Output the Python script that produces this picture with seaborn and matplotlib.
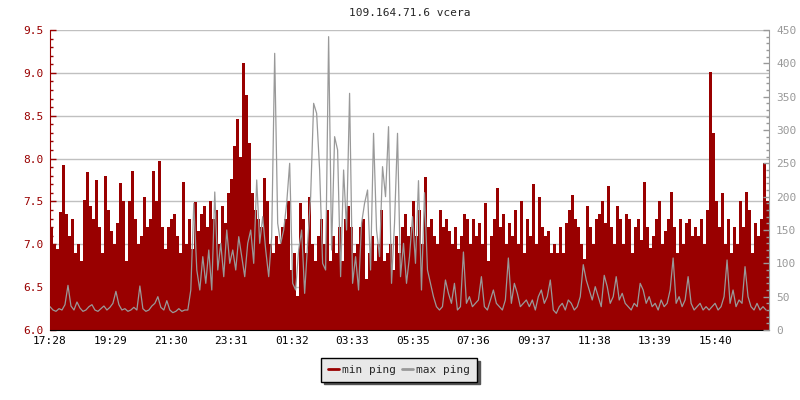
import numpy as np
import pandas as pd
import matplotlib
matplotlib.use("Agg")
import matplotlib.pyplot as plt
import seaborn as sns
from matplotlib.lines import Line2D
from matplotlib.ticker import MultipleLocator, FormatStrFormatter

sns.set_style("white")
plt.rcParams["font.family"] = ["DejaVu Sans Mono", "DejaVu Sans"]

title = "109.164.71.6 vcera"

# one sample every 6 minutes, starting 17:28
step_min = 6

# min ping (left axis)
min_ping = [
    7.2, 7.0, 6.95, 7.38, 7.93, 7.35, 7.1, 7.3, 6.9, 7.0, 6.8, 7.52, 7.84, 7.45, 7.3, 7.75, 7.2, 6.9, 7.8, 7.4,
    7.15, 7.0, 7.25, 7.71, 7.5, 6.8, 7.5, 7.85, 7.3, 7.0, 7.1, 7.55, 7.2, 7.3, 7.85, 7.5, 7.97, 7.2, 6.95, 7.2,
    7.3, 7.35, 7.1, 6.9, 7.73, 7.0, 7.3, 6.95, 7.49, 7.15, 7.35, 7.45, 7.2, 7.5, 7.3, 7.4, 7.0, 7.45, 7.25, 7.6,
    7.76, 8.15, 8.46, 8.02, 9.12, 8.74, 8.18, 7.6, 7.4, 7.3, 7.2, 7.77, 7.5, 7.0, 6.9, 7.1, 7.0, 7.2, 7.3, 7.5,
    6.7, 6.9, 6.4, 7.48, 7.3, 6.9, 7.55, 7.0, 6.8, 7.1, 7.3, 7.0, 7.4, 6.8, 7.1, 6.9, 7.2, 6.8, 7.3, 7.45,
    7.2, 6.9, 7.0, 7.2, 7.3, 6.6, 6.9, 7.1, 6.8, 7.0, 7.4, 6.8, 6.9, 7.0, 6.7, 7.1, 6.9, 7.2, 7.35, 7.1,
    7.2, 7.5, 7.1, 7.4, 7.0, 7.79, 7.2, 7.3, 7.1, 7.0, 7.4, 7.2, 7.3, 7.15, 7.0, 7.2, 6.95, 7.1, 7.35, 7.3,
    7.0, 7.3, 7.1, 7.25, 7.0, 7.48, 6.8, 7.1, 7.3, 7.66, 7.2, 7.35, 7.0, 7.25, 7.1, 7.4, 7.0, 7.5, 6.9, 7.3,
    7.1, 7.7, 7.0, 7.55, 7.2, 7.1, 7.15, 6.9, 7.0, 6.9, 7.2, 6.9, 7.25, 7.4, 7.58, 7.3, 7.2, 7.0, 6.83, 7.45,
    7.2, 7.0, 7.3, 7.35, 7.5, 7.25, 7.68, 7.2, 7.0, 7.45, 7.3, 7.0, 7.35, 7.3, 6.9, 7.2, 7.3, 7.05, 7.73, 7.2,
    6.96, 7.1, 7.3, 7.5, 7.0, 7.15, 7.3, 7.61, 7.2, 6.9, 7.3, 7.0, 7.25, 7.3, 7.1, 7.2, 7.1, 7.3, 7.0, 7.4,
    9.01, 8.3, 7.5, 7.2, 7.6, 7.0, 7.3, 6.9, 7.2, 7.0, 7.5, 7.2, 7.61, 7.4, 6.9, 7.25, 7.1, 7.3, 7.95, 7.5,
]

# max ping (right axis)
max_ping = [
    35, 30, 28, 32, 30, 38, 67, 36, 30, 42, 33, 28, 30, 35, 38, 30, 28, 32, 36, 30,
    34, 40, 58, 38, 30, 32, 28, 30, 34, 30, 66, 32, 28, 30, 36, 40, 50, 34, 30, 44,
    30, 26, 28, 32, 28, 30, 30, 60, 190, 90, 60, 110, 70, 120, 60, 207, 90, 130, 80, 150,
    100, 120, 90, 140, 110, 80, 130, 150, 100, 225, 130, 170, 120, 80, 140, 415, 160, 130, 150, 190,
    250, 70, 60, 120, 150, 55, 130, 200, 340, 325, 240, 100, 90, 440, 120, 290, 270, 80, 240, 150,
    355, 70, 110, 60, 160, 190, 210, 90, 295, 150, 110, 245, 200, 305, 70, 160, 295, 80, 130, 70,
    110, 170, 100, 224, 60, 206, 90, 70, 50, 35, 30, 35, 75, 55, 40, 70, 30, 35, 117, 40,
    50, 35, 40, 45, 80, 35, 30, 45, 60, 40, 35, 30, 45, 108, 40, 70, 55, 35, 40, 45,
    35, 45, 30, 50, 60, 40, 50, 75, 30, 25, 35, 40, 30, 45, 40, 30, 35, 50, 98, 75,
    60, 45, 65, 50, 35, 82, 65, 40, 50, 80, 45, 55, 40, 35, 30, 40, 35, 70, 60, 40,
    50, 35, 40, 30, 45, 35, 40, 60, 108, 40, 50, 35, 45, 80, 40, 30, 35, 40, 30, 35,
    30, 35, 40, 30, 35, 50, 105, 40, 60, 35, 45, 40, 95, 50, 35, 30, 40, 30, 35, 30,
]

tick_labels = ["17:28", "19:29", "21:30", "23:31", "01:32", "03:33",
               "05:35", "07:36", "09:37", "11:38", "13:39", "15:40"]
tick_every_min = 121.1
span_min = 1440

red = "#990000"
gray = "#999999"

df = pd.DataFrame({
    "minute": np.arange(len(min_ping)) * step_min,
    "min ping": min_ping,
    "max ping": max_ping,
})

fig = plt.figure(figsize=(8, 4), dpi=100)
ax = fig.add_axes([0.0625, 0.175, 0.89875, 0.75])

# min ping as a filled step area
xs = np.append(df["minute"].values, span_min)
ys = np.append(df["min ping"].values, df["min ping"].values[-1])
ax.fill_between(xs, 6.0, ys, step="post", color=red, lw=0, zorder=2)

ax.set_xlim(0, span_min)
ax.set_ylim(6.0, 9.5)
ax.yaxis.set_major_locator(MultipleLocator(0.5))
ax.yaxis.set_minor_locator(MultipleLocator(0.1))
ax.yaxis.set_major_formatter(FormatStrFormatter("%.1f"))
ax.set_xticks(np.arange(len(tick_labels)) * tick_every_min)
ax.set_xticklabels(tick_labels)
ax.set_axisbelow(True)
ax.yaxis.grid(True, which="major", color="#c0c0c0", lw=1)
ax.set_xlabel("")
ax.set_ylabel("")
ax.set_title(title, fontsize=8, pad=10)

ax.tick_params(axis="y", which="major", direction="in", length=4, width=1, colors=red, labelsize=8, pad=5)
ax.tick_params(axis="y", which="minor", direction="in", length=2.5, width=1, colors=red, left=True)
ax.tick_params(axis="x", direction="in", length=4, width=1, colors="black", labelsize=8, pad=4)
for s in ["top", "right"]:
    ax.spines[s].set_visible(False)
ax.spines["left"].set_color(red)
ax.spines["bottom"].set_color("black")

# max ping on the right axis
ax2 = ax.twinx()
sns.lineplot(data=df, x="minute", y="max ping", ax=ax2, color=gray, lw=0.9,
             legend=False, zorder=3)
ax2.set_ylim(0, 450)
ax2.set_xlim(0, span_min)
ax2.yaxis.set_major_locator(MultipleLocator(50))
ax2.yaxis.set_minor_locator(MultipleLocator(10))
ax2.tick_params(axis="y", which="major", direction="in", length=4, width=1, colors=gray, labelsize=8, pad=5)
ax2.tick_params(axis="y", which="minor", direction="in", length=2.5, width=1, colors=gray)
ax2.set_ylabel("")
ax2.set_xlabel("")
for s in ["top", "left", "bottom"]:
    ax2.spines[s].set_visible(False)
ax2.spines["right"].set_color(gray)

handles = [Line2D([], [], color=red, lw=2), Line2D([], [], color=gray, lw=2)]
leg = fig.legend(handles, ["min ping", "max ping"], loc="center", bbox_to_anchor=(0.499, 0.075),
                 ncol=2, frameon=True, fancybox=False, shadow={"color": "#555555", "alpha": 1},
                 edgecolor="black", facecolor="#e8e8e8", framealpha=1, handlelength=1.0,
                 handletextpad=0.3, columnspacing=0.5, borderpad=0.6, fontsize=8)
leg.get_frame().set_linewidth(1)

fig.savefig("out.png", dpi=100)
